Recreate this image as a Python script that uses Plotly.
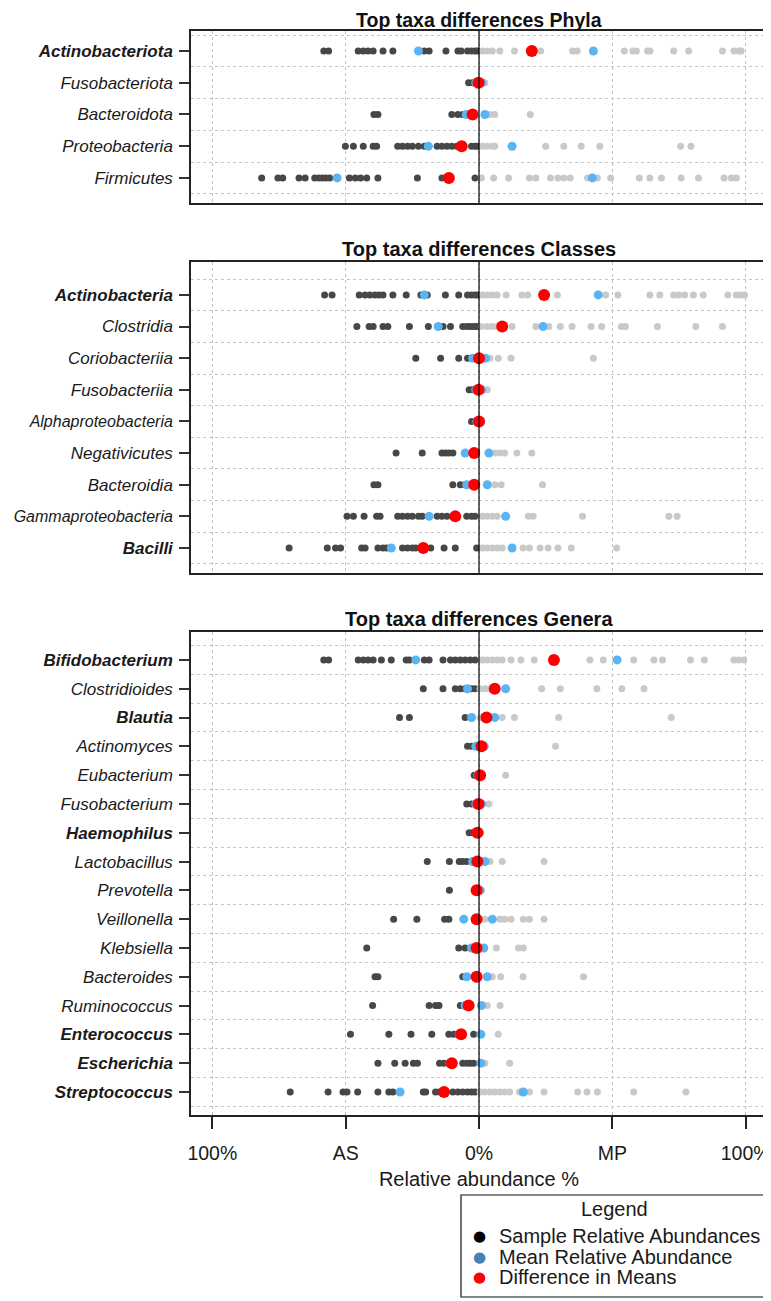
import plotly.graph_objects as go

# ---- data (positions on the AS <- 0 -> MP scale, -1..1) ----
phyla_taxa = ['Actinobacteriota', 'Fusobacteriota', 'Bacteroidota', 'Proteobacteria', 'Firmicutes']
phyla_bold = ['Actinobacteriota']
phyla_as = [
    [-0.582, -0.564, -0.453, -0.434, -0.416, -0.397, -0.360, -0.323, -0.205, -0.187, -0.124, -0.079, -0.067, -0.043, -0.028, -0.015, -0.006],
    [-0.039, -0.024],
    [-0.394, -0.379, -0.102, -0.079, -0.061],
    [-0.501, -0.471, -0.434, -0.397, -0.384, -0.305, -0.287, -0.268, -0.250, -0.227, -0.205, -0.157, -0.139, -0.120, -0.102, -0.083, -0.028, -0.015, -0.006],
    [-0.815, -0.754, -0.736, -0.675, -0.652, -0.616, -0.601, -0.588, -0.575, -0.560, -0.486, -0.464, -0.444, -0.421, -0.379, -0.231, -0.139, -0.015],
]
phyla_mp = [
    [0.013, 0.031, 0.050, 0.078, 0.133, 0.231, 0.351, 0.368, 0.545, 0.577, 0.590, 0.632, 0.641, 0.730, 0.786, 0.913, 0.956, 0.974, 0.983],
    [0.022],
    [0.041, 0.059, 0.192],
    [0.013, 0.031, 0.050, 0.059, 0.250, 0.318, 0.383, 0.453, 0.756, 0.795],
    [0.009, 0.055, 0.111, 0.189, 0.213, 0.268, 0.296, 0.318, 0.342, 0.407, 0.444, 0.494, 0.601, 0.641, 0.684, 0.758, 0.823, 0.919, 0.946, 0.965],
]
phyla_mean_as = [-0.227, -0.012, -0.048, -0.190, -0.532]
phyla_mean_mp = [0.429, 0.010, 0.022, 0.124, 0.425]
phyla_diff = [0.198, -0.002, -0.024, -0.065, -0.113]

class_taxa = ['Actinobacteria', 'Clostridia', 'Coriobacteriia', 'Fusobacteriia', 'Alphaproteobacteria',
              'Negativicutes', 'Bacteroidia', 'Gammaproteobacteria', 'Bacilli']
class_bold = ['Actinobacteria', 'Bacilli']
class_as = [
    [-0.579, -0.551, -0.449, -0.427, -0.409, -0.390, -0.375, -0.360, -0.323, -0.273, -0.218, -0.194, -0.126, -0.076, -0.043, -0.028, -0.015, -0.006],
    [-0.458, -0.412, -0.397, -0.360, -0.342, -0.261, -0.190, -0.135, -0.107, -0.061, -0.046, -0.033, -0.020, -0.009],
    [-0.237, -0.144, -0.076, -0.043, -0.028],
    [-0.037, -0.024],
    [-0.028],
    [-0.311, -0.213, -0.139, -0.126, -0.113, -0.098],
    [-0.394, -0.379, -0.098, -0.070, -0.052],
    [-0.495, -0.471, -0.431, -0.384, -0.371, -0.305, -0.287, -0.268, -0.250, -0.227, -0.213, -0.157, -0.139, -0.120, -0.046, -0.028, -0.015],
    [-0.712, -0.569, -0.538, -0.519, -0.440, -0.427, -0.379, -0.360, -0.347, -0.287, -0.268, -0.250, -0.237, -0.181, -0.131, -0.089, -0.009],
]
class_mp = [
    [0.013, 0.031, 0.050, 0.068, 0.102, 0.161, 0.183, 0.294, 0.475, 0.521, 0.641, 0.678, 0.730, 0.749, 0.771, 0.804, 0.841, 0.933, 0.965, 0.983, 0.996],
    [0.009, 0.031, 0.050, 0.068, 0.124, 0.213, 0.262, 0.305, 0.349, 0.420, 0.460, 0.534, 0.549, 0.669, 0.813, 0.913],
    [0.041, 0.072, 0.120, 0.429],
    [0.031],
    [0.006],
    [0.059, 0.078, 0.096, 0.142, 0.198],
    [0.059, 0.083, 0.238],
    [0.013, 0.031, 0.050, 0.068, 0.185, 0.203, 0.388, 0.712, 0.743],
    [0.013, 0.031, 0.050, 0.068, 0.087, 0.165, 0.189, 0.229, 0.259, 0.296, 0.346, 0.516],
]
class_mean_as = [-0.205, -0.153, -0.024, -0.012, -0.008, -0.052, -0.046, -0.187, -0.329]
class_mean_mp = [0.447, 0.240, 0.024, 0.010, 0.006, 0.037, 0.031, 0.100, 0.124]
class_diff = [0.244, 0.087, 0.000, -0.002, 0.000, -0.018, -0.018, -0.089, -0.209]

genus_taxa = ['Bifidobacterium', 'Clostridioides', 'Blautia', 'Actinomyces', 'Eubacterium', 'Fusobacterium',
              'Haemophilus', 'Lactobacillus', 'Prevotella', 'Veillonella', 'Klebsiella', 'Bacteroides',
              'Ruminococcus', 'Enterococcus', 'Escherichia', 'Streptococcus']
genus_bold = ['Bifidobacterium', 'Blautia', 'Haemophilus', 'Enterococcus', 'Escherichia', 'Streptococcus']
genus_as = [
    [-0.582, -0.564, -0.453, -0.434, -0.416, -0.397, -0.366, -0.329, -0.273, -0.261, -0.205, -0.187, -0.135, -0.107, -0.089, -0.070, -0.052, -0.033, -0.015],
    [-0.209, -0.135, -0.089, -0.070, -0.052, -0.028, -0.015],
    [-0.298, -0.261, -0.052],
    [-0.043, -0.028],
    [-0.018],
    [-0.046, -0.028],
    [-0.037, -0.024],
    [-0.194, -0.111, -0.074, -0.061, -0.046],
    [-0.111],
    [-0.320, -0.233, -0.129, -0.113],
    [-0.421, -0.076, -0.052],
    [-0.390, -0.379, -0.061],
    [-0.399, -0.187, -0.163, -0.150, -0.070],
    [-0.482, -0.338, -0.255, -0.177, -0.113, -0.094, -0.076, -0.020],
    [-0.379, -0.316, -0.277, -0.246, -0.231, -0.148, -0.131, -0.061, -0.046, -0.033, -0.020],
    [-0.708, -0.566, -0.510, -0.495, -0.455, -0.379, -0.338, -0.323, -0.209, -0.200, -0.163, -0.148, -0.098, -0.079, -0.061, -0.043, -0.028, -0.015],
]
genus_mp = [
    [0.013, 0.031, 0.050, 0.068, 0.087, 0.120, 0.157, 0.207, 0.416, 0.466, 0.580, 0.656, 0.688, 0.793, 0.845, 0.956, 0.974, 0.993],
    [0.004, 0.022, 0.041, 0.235, 0.305, 0.442, 0.536, 0.619],
    [0.004, 0.087, 0.133, 0.299, 0.721],
    [0.287],
    [0.100],
    [0.037],
    [],
    [0.041, 0.087, 0.244],
    [0.009],
    [0.022, 0.078, 0.096, 0.120, 0.166, 0.189, 0.244],
    [0.065, 0.148, 0.166],
    [0.050, 0.081, 0.165, 0.392],
    [0.031, 0.079],
    [0.072],
    [0.022, 0.115],
    [0.004, 0.022, 0.041, 0.059, 0.078, 0.096, 0.115, 0.152, 0.189, 0.244, 0.370, 0.405, 0.444, 0.580, 0.776],
]
genus_mean_as = [-0.237, -0.043, -0.028, -0.012, -0.004, -0.012, -0.008, -0.024, -0.012, -0.057, -0.028, -0.046, -0.052, -0.074, -0.109, -0.296]
genus_mean_mp = [0.518, 0.100, 0.059, 0.020, 0.008, 0.010, 0.002, 0.022, 0.004, 0.050, 0.018, 0.031, 0.009, 0.007, 0.007, 0.166]
genus_diff = [0.281, 0.059, 0.028, 0.009, 0.004, -0.002, -0.006, -0.006, -0.009, -0.009, -0.009, -0.009, -0.039, -0.067, -0.102, -0.131]

x_ticks = [-1, -0.5, 0, 0.5, 1]
x_labels = ['100%', 'AS', '0%', 'MP', '100%']

panel_titles = ['Top taxa differences Phyla', 'Top taxa differences Classes', 'Top taxa differences Genera']

legend_names = ['Sample Relative Abundances', 'Mean Relative Abundance', 'Difference in Means']
legend_colors = ['#000000', '#4682b4', '#ff0000']

# ---- styling ----
FONT = 'Liberation Sans'
DARK = '#474747'
LIGHT = '#c9c9c9'
BLUE = '#5ab4f4'
RED = '#ff0000'
FRAME = '#222222'
GRID = '#c4c4c4'
TXT = '#1a1a1a'

# the page body adds an 8px offset, so the figure is 8px smaller than the window
OFF = 8
W, H = 771 - OFF, 1301 - OFF
ML, MR = 191 - OFF, 4
PW = W - ML - MR


def px_x(x):   # window pixel -> paper x
    return (x - OFF - ML) / PW


def px_y(y):   # window pixel -> paper y
    return 1 - (y - OFF) / H


# panel boxes in window pixels (top, bottom) and row padding
boxes = [(31, 203), (262, 573), (632, 1115)]
pads = [(0.63, 0.79), (1.04, 0.79), (0.97, 0.80)]

panels = [
    (phyla_taxa, phyla_bold, phyla_as, phyla_mp, phyla_mean_as, phyla_mean_mp, phyla_diff),
    (class_taxa, class_bold, class_as, class_mp, class_mean_as, class_mean_mp, class_diff),
    (genus_taxa, genus_bold, genus_as, genus_mp, genus_mean_as, genus_mean_mp, genus_diff),
]


def label(t, bold):
    txt = '<i>%s</i>' % t
    if t in bold:
        txt = '<b>%s</b>' % txt
    if len(t) > 18:  # longest name must stay inside the page
        txt = '<span style="font-size:16px">%s</span>' % txt
    return txt


fig = go.Figure()

for p, (taxa, bold, s_as, s_mp, m_as, m_mp, diff) in enumerate(panels):
    xa = 'x' if p == 0 else 'x%d' % (p + 1)
    ya = 'y' if p == 0 else 'y%d' % (p + 1)
    # sample dots
    for vals, col in ((s_as, DARK), (s_mp, LIGHT)):
        xs, ys = [], []
        for i, row in enumerate(vals):
            xs += row
            ys += [i] * len(row)
        fig.add_trace(go.Scatter(x=xs, y=ys, mode='markers', xaxis=xa, yaxis=ya,
                                 marker=dict(color=col, size=7), showlegend=False, hoverinfo='skip'))
    # group means
    fig.add_trace(go.Scatter(x=m_as + m_mp, y=list(range(len(taxa))) * 2, mode='markers',
                             xaxis=xa, yaxis=ya, marker=dict(color=BLUE, size=9),
                             showlegend=False, hoverinfo='skip'))
    # difference in means
    fig.add_trace(go.Scatter(x=diff, y=list(range(len(taxa))), mode='markers',
                             xaxis=xa, yaxis=ya, marker=dict(color=RED, size=12),
                             showlegend=False, hoverinfo='skip'))

    n = len(taxa)
    top, bot = boxes[p]
    last = p == 2
    fig.layout[('yaxis' if p == 0 else 'yaxis%d' % (p + 1))] = dict(
        domain=[px_y(bot), px_y(top)], anchor=xa, automargin=False,
        range=[n - 1 + pads[p][1], -pads[p][0]],
        tickmode='array', tickvals=list(range(n)), ticktext=[label(t, bold) for t in taxa],
        ticks='outside', ticklen=10, tickwidth=1.5, tickcolor='#333333',
        ticklabelstandoff=3,
        tickfont=dict(family=FONT, size=17, color=TXT),
        showgrid=False, zeroline=False,
        showline=True, mirror=True, linecolor=FRAME, linewidth=1.5,
        minor=dict(tickmode='linear', tick0=0.5, dtick=1, showgrid=True,
                   gridcolor=GRID, griddash='dot', gridwidth=1, ticks=''),
    )
    fig.layout[('xaxis' if p == 0 else 'xaxis%d' % (p + 1))] = dict(
        domain=[0, 1], anchor=ya, range=[-1.08, 1.08], automargin=False,
        tickmode='array', tickvals=x_ticks, ticktext=x_labels,
        showticklabels=last, ticks='outside' if last else '', ticklen=12,
        tickwidth=1.5, tickcolor='#222222', ticklabelstandoff=8,
        ticklabeloverflow='allow',
        tickfont=dict(family=FONT, size=19.5, color=TXT),
        showgrid=True, gridcolor=GRID, griddash='dot', gridwidth=1,
        zeroline=False,
        showline=True, mirror=True, linecolor=FRAME, linewidth=1.5,
        title=dict(text='Relative abundance %' if last else '',
                   font=dict(family=FONT, size=20, color=TXT), standoff=9),
    )
    # zero reference line drawn over the dots
    fig.add_shape(type='line', xref=xa, yref=ya + ' domain', x0=0, x1=0, y0=0, y1=1,
                  line=dict(color='#000000', width=1.2), layer='above')
    if p == 0:
        # first title sits against the top of the page
        fig.add_annotation(text='<b>%s</b>' % panel_titles[p], xref=xa + ' domain', yref='paper',
                           x=0.5, y=1, xanchor='center', yanchor='top', showarrow=False,
                           borderpad=0, font=dict(family=FONT, size=19.5, color='#111111'))
    else:
        fig.add_annotation(text='<b>%s</b>' % panel_titles[p], xref=xa + ' domain', yref=ya + ' domain',
                           x=0.5, y=1, xanchor='center', yanchor='bottom', showarrow=False,
                           font=dict(family=FONT, size=20, color='#111111'))

# ---- legend box (drawn by hand so the spacing matches) ----
fig.add_shape(type='rect', xref='paper', yref='paper',
              x0=px_x(461), x1=px_x(767), y0=px_y(1297), y1=px_y(1195),
              line=dict(color='#111111', width=1.2), fillcolor='white', layer='above')
fig.add_annotation(text='Legend', xref='paper', yref='paper', x=px_x(614), y=px_y(1209),
                   xanchor='center', yanchor='middle', showarrow=False,
                   font=dict(family=FONT, size=20, color=TXT))
for k, (name, col) in enumerate(zip(legend_names, legend_colors)):
    yy = px_y(1236 + 20.5 * k)
    fig.add_annotation(text='\u25CF', xref='paper', yref='paper', x=px_x(479), y=yy,
                       xanchor='center', yanchor='middle', showarrow=False,
                       font=dict(family='DejaVu Sans', size=15, color=col))
    fig.add_annotation(text=name, xref='paper', yref='paper', x=px_x(497), y=yy,
                       xanchor='left', yanchor='middle', showarrow=False,
                       font=dict(family=FONT, size=20, color=TXT))

fig.update_layout(
    width=W, height=H,
    margin=dict(l=ML, r=MR, t=0, b=0, autoexpand=False),
    plot_bgcolor='white', paper_bgcolor='white',
    font=dict(family=FONT, color=TXT),
    showlegend=False,
)

fig.write_html("out.html")
